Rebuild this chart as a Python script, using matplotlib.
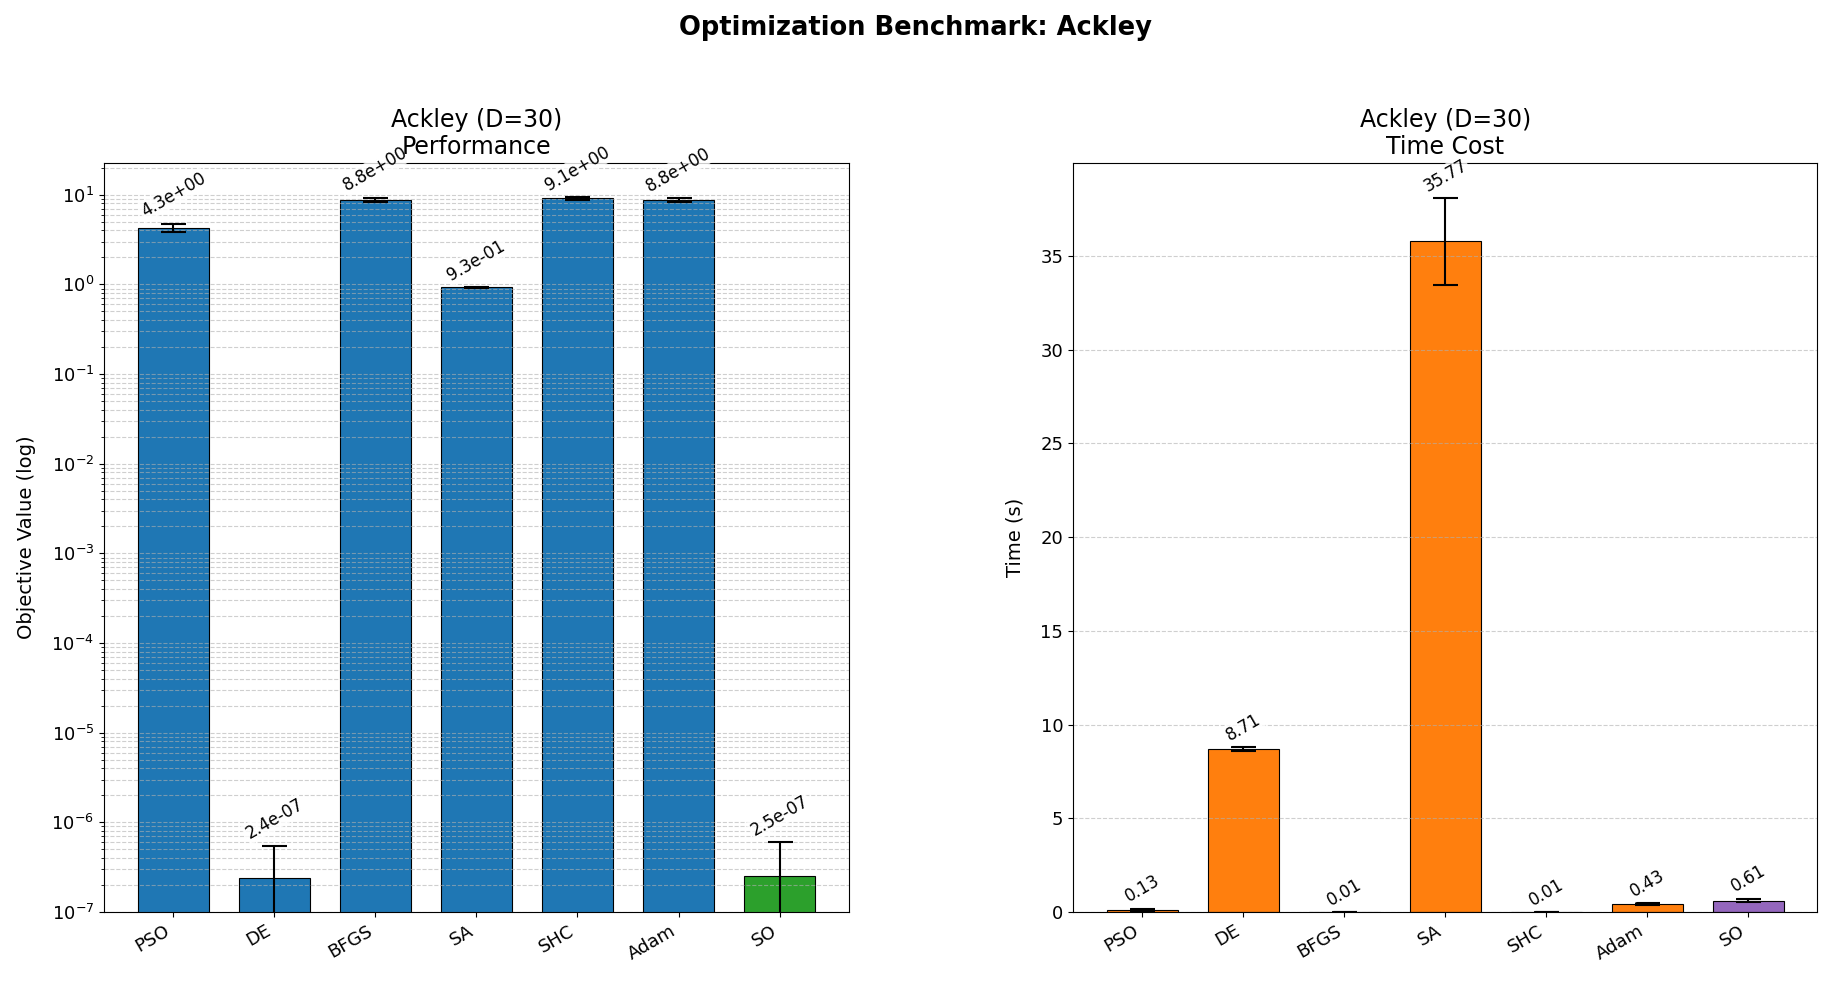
import matplotlib
matplotlib.use('Agg')
import matplotlib.pyplot as plt
import numpy as np

# Benchmark results
algorithms = ['PSO', 'DE', 'BFGS', 'SA', 'SHC', 'Adam', 'SO']
obj_mean = [4.3, 2.4e-07, 8.8, 0.93, 9.1, 8.8, 2.5e-07]
obj_std = [0.46, 3.1e-07, 0.5, 0.01, 0.4, 0.45, 3.5e-07]
time_mean = [0.13, 8.71, 0.01, 35.77, 0.01, 0.43, 0.61]
time_std = [0.05, 0.1, 0.005, 2.3, 0.005, 0.03, 0.1]
obj_labels = ['4.3e+00', '2.4e-07', '8.8e+00', '9.3e-01', '9.1e+00', '8.8e+00', '2.5e-07']
time_labels = ['0.13', '8.71', '0.01', '35.77', '0.01', '0.43', '0.61']
obj_colors = ['#1f77b4'] * 6 + ['#2ca02c']
time_colors = ['#ff7f0e'] * 6 + ['#9467bd']


def annotate(ax, x, tops, labels):
    for xi, top, lab in zip(x, tops, labels):
        ax.annotate(lab, (xi, top), xytext=(0, 2), textcoords='offset points',
                    ha='center', va='bottom', rotation=30, fontsize=12,
                    bbox=dict(boxstyle='square,pad=0.1', facecolor='white',
                              edgecolor='none', alpha=0.8))


fig = plt.figure(figsize=(18.31, 9.86), dpi=100)
ax1 = fig.add_axes([0.0568, 0.075, 0.4068, 0.76])
ax2 = fig.add_axes([0.586, 0.075, 0.4066, 0.76])

x = np.arange(len(algorithms))

# Performance (log scale)
ax1.bar(x, obj_mean, width=0.7, yerr=obj_std, color=obj_colors, edgecolor='black',
        linewidth=0.8, capsize=9, error_kw=dict(elinewidth=1.5, capthick=1.5))
ax1.set_yscale('log')
ax1.set_ylim(bottom=1e-7)
ax1.grid(True, which='both', axis='y', linestyle='--', alpha=0.6)
ax1.set_ylabel('Objective Value (log)', fontsize=14, labelpad=11)
ax1.set_title('Ackley (D=30)\nPerformance', fontsize=17)
annotate(ax1, x, np.array(obj_mean) + np.array(obj_std), obj_labels)

# Time cost
ax2.bar(x, time_mean, width=0.7, yerr=time_std, color=time_colors, edgecolor='black',
        linewidth=0.8, capsize=9, error_kw=dict(elinewidth=1.5, capthick=1.5))
ax2.grid(True, axis='y', linestyle='--', alpha=0.6)
ax2.set_ylabel('Time (s)', fontsize=14, labelpad=11)
ax2.set_title('Ackley (D=30)\nTime Cost', fontsize=17)
annotate(ax2, x, np.array(time_mean) + np.array(time_std), time_labels)

for ax in (ax1, ax2):
    ax.set_xticks(x)
    ax.set_xticklabels(algorithms, rotation=30, ha='right', fontsize=13)
    ax.tick_params(axis='y', labelsize=13)

fig.suptitle('Optimization Benchmark: Ackley', fontsize=18.5, fontweight='bold', y=0.985)

fig.savefig('out.png', dpi=100)
